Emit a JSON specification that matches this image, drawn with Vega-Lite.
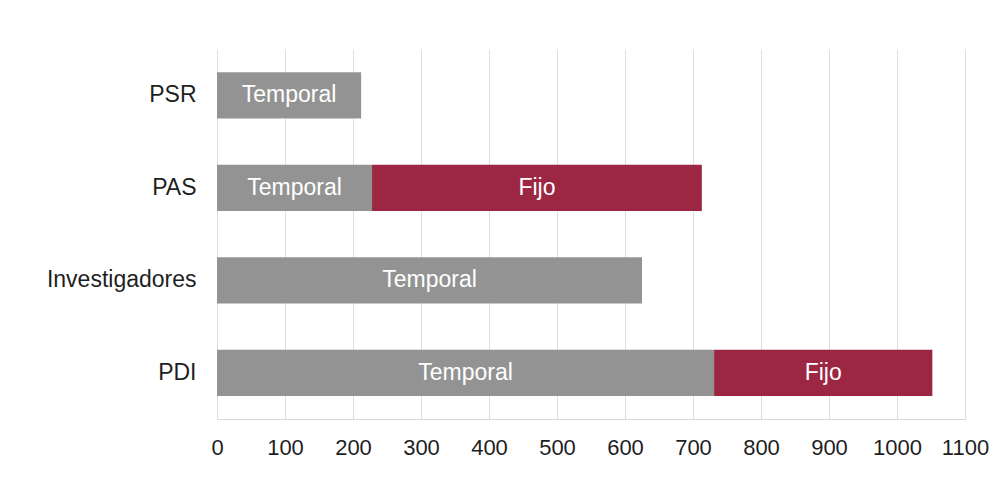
{
  "$schema": "https://vega.github.io/schema/vega-lite/v6.json",
  "autosize": {"type": "none"},
  "width": 748,
  "height": 370,
  "padding": {"left": 217, "top": 49, "right": 29, "bottom": 59},
  "background": "white",
  "config": {
    "font": "Liberation Sans",
    "view": {"stroke": null}
  },
  "data": {
    "values": [
      {"grupo": "PSR", "tipo": "Temporal", "valor": 212},
      {"grupo": "PAS", "tipo": "Temporal", "valor": 228},
      {"grupo": "PAS", "tipo": "Fijo", "valor": 485},
      {"grupo": "Investigadores", "tipo": "Temporal", "valor": 625},
      {"grupo": "PDI", "tipo": "Temporal", "valor": 731},
      {"grupo": "PDI", "tipo": "Fijo", "valor": 321}
    ]
  },
  "transform": [
    {"stack": "valor", "groupby": ["grupo"], "sort": [{"field": "tipo", "order": "descending"}], "as": ["x0", "x1"]},
    {"calculate": "(datum.x0 + datum.x1) / 2", "as": "xm"}
  ],
  "encoding": {
    "y": {
      "field": "grupo",
      "type": "nominal",
      "sort": ["PSR", "PAS", "Investigadores", "PDI"],
      "scale": {"paddingInner": 0.5, "paddingOuter": 0.25},
      "axis": {
        "title": null,
        "domain": false,
        "ticks": false,
        "labelFontSize": 23,
        "labelColor": "#1f1f1f",
        "labelPadding": 21,
        "labelFont": "Liberation Sans"
      }
    }
  },
  "layer": [
    {
      "mark": {"type": "bar"},
      "encoding": {
        "x": {
          "field": "x0",
          "type": "quantitative",
          "scale": {"domain": [0, 1100], "nice": false},
          "axis": {
            "title": null,
            "values": [0, 100, 200, 300, 400, 500, 600, 700, 800, 900, 1000, 1100],
            "format": "d",
            "labelOverlap": false,
            "labelFlush": false,
            "labelBound": false,
            "grid": true,
            "gridColor": "#dedede",
            "gridWidth": 1,
            "domain": true,
            "domainColor": "#d9d9d9",
            "domainWidth": 1,
            "ticks": false,
            "labelFontSize": 22,
            "labelColor": "#1f1f1f",
            "labelPadding": 18,
            "labelFont": "Liberation Sans"
          }
        },
        "x2": {"field": "x1"},
        "color": {
          "field": "tipo",
          "type": "nominal",
          "scale": {"domain": ["Temporal", "Fijo"], "range": ["#939393", "#9b2743"]},
          "legend": null
        }
      }
    },
    {
      "mark": {"type": "text", "color": "white", "fontSize": 23, "font": "Liberation Sans", "align": "center", "baseline": "middle"},
      "encoding": {
        "x": {"field": "xm", "type": "quantitative"},
        "text": {"field": "tipo", "type": "nominal"}
      }
    }
  ]
}
